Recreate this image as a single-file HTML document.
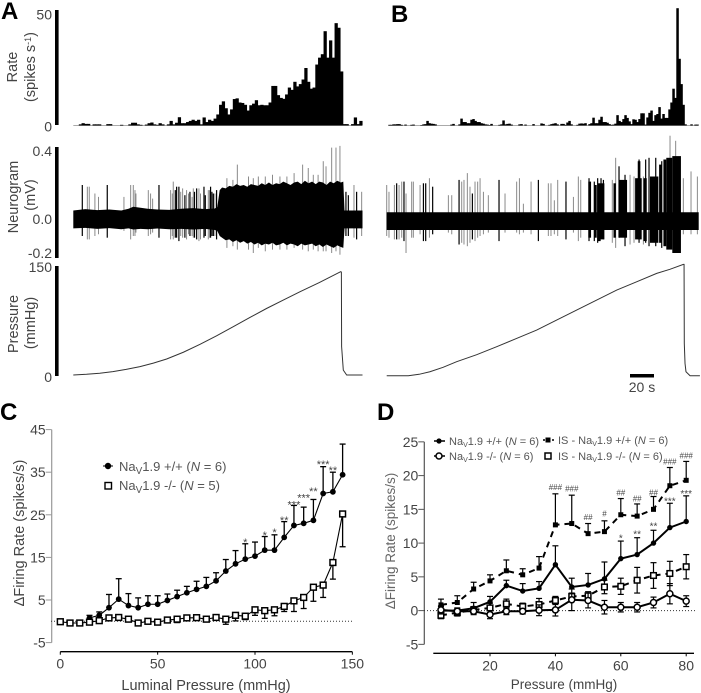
<!DOCTYPE html>
<html lang="en">
<head>
<meta charset="utf-8">
<title>Nav1.9 afferent firing recordings</title>
<style>
html,body{margin:0;padding:0;background:#fff;width:701px;height:693px;overflow:hidden}
svg{display:block;font-family:"Liberation Sans",Arial,sans-serif;filter:blur(0.3px)}
.lab{fill:#444;font-size:14.5px}
.tick{fill:#444;font-size:14px}
.letter{fill:#000;font-size:24px;font-weight:bold}
</style>
</head>
<body>
<svg id="fig" xmlns="http://www.w3.org/2000/svg" width="701" height="693" viewBox="0 0 701 693">
  <text class="letter" x="1" y="19">A</text>
  <text class="letter" x="391" y="22">B</text>
  <text class="letter" x="0" y="420">C</text>
  <text class="letter" x="377" y="420">D</text>

  <text class="lab" transform="translate(17,67) rotate(-90)" text-anchor="middle">Rate</text>
  <text class="lab" transform="translate(35,67) rotate(-90)" text-anchor="middle">(spikes s<tspan dy="-4" font-size="9">-1</tspan><tspan dy="4">)</tspan></text>
  <text class="lab" transform="translate(18,197) rotate(-90)" text-anchor="middle">Neurogram</text>
  <text class="lab" transform="translate(35,195) rotate(-90)" text-anchor="middle">(mV)</text>
  <text class="lab" transform="translate(18,324) rotate(-90)" text-anchor="middle">Pressure</text>
  <text class="lab" transform="translate(35,323) rotate(-90)" text-anchor="middle">(mmHg)</text>

  <text class="lab" transform="translate(24,533) rotate(-90)" text-anchor="middle">ΔFiring Rate (spikes/s)</text>
  <text class="lab" x="206" y="690" text-anchor="middle">Luminal Pressure (mmHg)</text>
  <text class="lab" style="font-size:13.5px;fill:#666" transform="translate(395,541) rotate(-90)" text-anchor="middle">ΔFiring Rate (spikes/s)</text>
  <text class="lab" style="font-size:13.5px" x="564" y="689" text-anchor="middle">Pressure (mmHg)</text>

  <g>
    <rect x="630" y="374" width="24" height="3.5" fill="#000"></rect>
    <text class="tick" x="642" y="392" text-anchor="middle">20 s</text>
  </g>

  <g>
    <circle cx="108" cy="466" r="3.2" fill="#000"></circle>
    <line x1="103" y1="466" x2="113" y2="466" stroke="#000"></line>
    <text x="119" y="471" font-size="13" fill="#555">Na<tspan dy="3" font-size="10">V</tspan><tspan dy="-3">1.9 +/+ (</tspan><tspan font-style="italic">N</tspan> = 6)</text>
    <rect x="105" y="482.5" width="6.5" height="6.5" fill="#fff" stroke="#000" stroke-width="1.4"></rect>
    <text x="119" y="490" font-size="13" fill="#555">Na<tspan dy="3" font-size="10">V</tspan><tspan dy="-3">1.9 -/- (</tspan><tspan font-style="italic">N</tspan> = 5)</text>
  </g>

  <g>
    <line x1="434" y1="441" x2="445" y2="441" stroke="#000" stroke-width="1.5"></line>
    <circle cx="439" cy="441" r="2.6" fill="#000"></circle>
    <text x="449" y="445" font-size="11" fill="#555">Na<tspan dy="2" font-size="7">V</tspan><tspan dy="-2">1.9 +/+ (</tspan><tspan font-style="italic">N</tspan> = 6)</text>
    <line x1="434" y1="456" x2="445" y2="456" stroke="#000" stroke-width="1.5"></line>
    <circle cx="439" cy="456" r="3" fill="#fff" stroke="#000" stroke-width="1.5"></circle>
    <text x="449" y="460" font-size="11" fill="#555">Na<tspan dy="2" font-size="7">V</tspan><tspan dy="-2">1.9 -/- (</tspan><tspan font-style="italic">N</tspan> = 6)</text>
    <line x1="543" y1="440" x2="554" y2="440" stroke="#000" stroke-width="1.5" stroke-dasharray="2 7"></line>
    <rect x="545.5" y="437.5" width="5" height="5" fill="#000"></rect>
    <text x="558" y="444" font-size="11" fill="#555">IS - Na<tspan dy="2" font-size="7">V</tspan><tspan dy="-2">1.9 +/+ (</tspan><tspan font-style="italic">N</tspan> = 6)</text>
    <rect x="545" y="453" width="6" height="6" fill="#fff" stroke="#000" stroke-width="1.5"></rect>
    <text x="558" y="460" font-size="11" fill="#555">IS - Na<tspan dy="2" font-size="7">V</tspan><tspan dy="-2">1.9 -/- (</tspan><tspan font-style="italic">N</tspan> = 6)</text>
  </g>
</svg>
<script>
// ---------- Panel A/B: histogram values (spikes/s per bin) ----------
const rateA = [0,0,.5,1,.7,.7,0,.5,.5,.5,0,0,.6,.6,0,0,0,.3,0,0,.5,1.2,1.2,.5,.3,0,.4,1,1.3,.5,.3,1,.5,0,.5,2,.5,1.2,3.6,1,1,1.5,2,2.5,2,2.5,.5,3.5,1.5,2.5,2,3,4.8,9,10.5,7.5,4.8,7,11.5,11.8,10,9.8,9,6.5,8.8,9.5,11,8.8,9,8.8,8.8,10,17.2,17.2,13.2,12,11.6,13.5,16.5,15.5,19,17,18,20,25,19,16,16.5,26.5,29.5,31,41,29.5,37,29.5,44.5,42.5,23.5,.6,.6,0,.6,3.5,.6,2];
const rateB = [.3,.3,.5,.5,.6,.6,.3,0,.4,0, 0,.3,.4,0,0,0,.2,.5,.6,2, 1,.8,.7,.5,0,0,0,0,0,0, 0,.4,.7,0,0,.5,3,1.5,1.5,1, 1,2.5,2.8,2,1.5,1.5,1,.8,.5,.4, .2,.7,0,0,0,.3,.5,2.2,.5,.7, .8,.4,0,0,0,.5,.6,0,.4,0, 0,0,.6,0,0,0,.9,.7,0,0, .3,.6,.8,1,.5,0,.7,.7,.3,1.3, 2,.5,0,0,.3,.8,.9,.8,1,0, .6,1,3.4,1,1,2.5,3.8,1.5,1.5,1.2, .6,.3,.4,.8,4.5,2,1.5,2.8,4.5,3.3, 1.8,.6,2.7,2.5,1.5,2.8,5.3,5.3,.4,3.5, 5.5,6.5,2,4.5,5,8,3,5,3.3,3.3, 7,10,16,12,51,29,18,9,.5,0, 0,.5,0,.4,.4];
const rateTickValues = [50,0];

// ---------- Neurogram A ----------
const neuroTicks = [0.4,0,-0.2];
const bandTimeA = [0,10,20,30,40,46,50,56,62,70,80,90,100,110,118,120,122,124,127,130,133,136,139,142,145,148,151,154,157,160,163,166,169,172,175,178,181,184,187,190,193,196,199,202,205,208,211,214,217,220,223,225,226,241];
const bandHighA = [.05,.058,.052,.056,.05,.06,.072,.066,.06,.056,.054,.06,.064,.058,.062,.07,.17,.185,.18,.195,.19,.205,.195,.2,.19,.205,.2,.195,.21,.2,.215,.2,.21,.205,.22,.21,.2,.215,.22,.205,.225,.21,.22,.205,.22,.215,.2,.22,.21,.225,.215,.22,.05,.05];
const bandLowA = [-.055,-.052,-.058,-.054,-.06,-.055,-.062,-.058,-.06,-.056,-.06,-.058,-.062,-.058,-.065,-.07,-.1,-.11,-.125,-.12,-.135,-.125,-.14,-.13,-.145,-.135,-.15,-.14,-.155,-.145,-.15,-.14,-.155,-.15,-.14,-.155,-.145,-.15,-.16,-.145,-.155,-.15,-.145,-.16,-.15,-.165,-.15,-.16,-.17,-.155,-.165,-.17,-.055,-.055];
const spikeTimeA = [7.5,11.7,13.3,18,21, 28.3,42.2,47.8,50,51.4, 52.2,62.5,64.4,66.1,71.4, 81.1,83.3,86.1,88,91.1, 94.4,97.2,100,102.8,104.7, 108.9,112.5,114.4,116.7,119.4, 136.7,154.2,172.2,191.1,195.8, 208.3,210.6,215.3,218.9,222.2, 227.2,229.2,233.9,236.1,240.3, 82.5,85,89.5,93,96,99,101,106,110,113.5,115.5,118, 128,133,146,150,160,166,178,184,200,204];
const spikeHighA = [.2,.19,.19,.15,.13, .2,.13,.2,.2,.17, .15,.17,.15,.12,.2, .17,.22,.19,.19,.18, .17,.16,.18,.18,.18, .19,.17,.19,.15,.17, .32,.25,.25,.32,.3, .34,.31,.42,.42,.43, .16,.14,.2,.16,.16, .15,.17,.16,.14,.15,.13,.16,.15,.14,.17,.16,.15, .24,.23,.25,.24,.25,.26,.25,.27,.26,.26];
const spikeLowA = [-.1,-.12,-.12,-.1,-.09, -.11,-.07,-.12,-.1,-.1, -.08,-.1,-.09,-.08,-.11, -.12,-.12,-.11,-.13,-.11, -.12,-.1,-.11,-.12,-.13, -.11,-.12,-.11,-.1,-.12, -.18,-.17,-.18,-.18,-.19, -.19,-.19,-.2,-.19,-.21, -.1,-.1,-.11,-.12,-.1, -.1,-.11,-.1,-.11,-.09,-.1,-.11,-.12,-.1,-.11,-.1,-.1, -.17,-.16,-.18,-.2,-.19,-.18,-.18,-.17,-.18,-.19];
const spikeDarkA = [1,0,0,0,0, 1,0,0,0,0, 0,0,0,0,1, 0,0,1,1,0, 0,1,0,1,0, 1,0,1,1,1, 0,0,0,0,0, 0,0,0,0,0, 1,1,0,1,0, 0,1,0,1,0,0,1,0,1,0,1,0, 0,0,0,0,0,0,0,0,0,0];

// ---------- Neurogram B ----------
const bandTimeB = [0,260];
const bandHighB = [.05,.05];
const bandLowB = [-.055,-.055];
const burstStartB = [168,173,175.8,179,189,193.6,207,209.2,214,219.4,227,230.6,233,238];
const burstEndB = [170.3,175,178.3,181.4,191,200.3,212.5,211.4,216.7,226.4,229,233,238,245.2];
const burstHighB = [.23,.21,.22,.22,.22,.24,.25,.35,.25,.26,.33,.36,.37,.38];
const burstLowB = [-.1,-.1,-.12,-.11,-.1,-.1,-.11,-.11,-.12,-.13,-.13,-.15,-.17,-.19];
const spikeTimeB = [0,1.9,6.4,8.3,10.3, 12.5,14.4,16.1,20.8,22.2, 27.8,30.6,32.5,35.6,38.3, 51.4,54.2,60.3,62.5,64.4, 67.2,69.4,71.4,73.6,75.8, 77.8,80.6,84.7,93.6,98.6, 108.3,110.6,113.9,120.3,126.4, 134.7,136.9,139.7,142.5,149.4, 155.6,159.7,161.7,168.6,173, 175.8,178.6,180.6,188,190.8, 193.6,198.6,202.8,206.1,210.3, 213.9,215.8,218.6,224.2,229.2, 236.1,240.8,247.2,253.6,258.9];
const spikeHighB = [.21,.17,.21,.22,.21, .23,.23,.16,.23,.23, .21,.22,.22,.25,.2, .15,.15,.24,.23,.24, .28,.2,.16,.23,.23, .25,.17,.15,.24,.16, .23,.25,.1,.23,.24, .22,.22,.12,.24,.23, .14,.26,.24,.25,.23, .25,.25,.24,.24,.37, .32,.27,.27,.26,.36, .26,.36,.37,.37,.35, .5,.47,.25,.29,.26];
const spikeLowB = [-.09,-.1,-.11,-.11,-.11, -.1,-.12,-.19,-.1,-.1, -.08,-.12,-.12,-.1,-.08, -.07,-.08,-.14,-.13,-.14, -.15,-.13,-.11,-.12,-.1, -.09,-.08,-.07,-.12,-.07, -.07,-.08,-.07,-.08,-.12, -.09,-.09,-.08,-.09,-.11, -.07,-.12,-.1,-.12,-.12, -.13,-.11,-.11,-.13,-.16, -.1,-.15,-.14,-.13,-.13, -.14,-.13,-.15,-.15,-.16, -.15,-.17,-.08,-.08,-.08];
const spikeDarkB = [0,0,0,1,0, 0,1,0,0,0, 0,1,1,0,1, 0,0,1,0,0, 0,0,1,0,0, 0,0,0,1,0, 0,0,0,0,1, 0,0,0,0,1, 0,0,0,1,1, 1,1,1,0,0, 1,1,0,0,1, 0,1,1,1,1, 0,0,0,0,0];

// ---------- Pressure traces ----------
const pressureTicks = [150,0];
const pressureTimeA = [0,11,22,33,44,55.6,66.7,77.8,91.7,105.6,119.4,133.3,147,161,175,189,205,222.8,223.4,223.6,225,227.8,241];
const pressureValA = [0,1,2.5,4.8,8,11.9,17,22.9,32.5,43.8,56,69,82,95,107,119,132,147.6,147,40.5,7,0,0];
const pressureTimeB = [0,18,27,36,47,58.3,75,91.7,108,125,141,158.3,175,191.7,208,225,236,247.2,247.8,248,248.6,249.4,252.8,261];
const pressureValB = [0,0,2,5.7,12,20,30,41.4,53,65.2,79,93.8,108,122.4,134,146.2,152,159,159,46,17.6,5.7,0,0];

// ---------- Panel C ----------
const cYTicks = [45,35,25,15,5,-5];
const cXTicks = [0,50,100,150];
const cWtPressure = [15,20,25,30,35,40,45,50,55,60,65,70,75,80,85,90,95,100,105,110,115,120,125,130,135,140,145];
const cWtRate = [.8,1.4,3.2,5.2,3.7,3.2,4,4,4.9,5.8,6.7,7.5,8.2,9.5,11.8,13.5,14.6,15.3,16.7,16.7,19.7,22.5,23,23.7,30,30.4,34.4];
const cWtErrTop = [1.4,2.2,6.3,10,6.5,5.5,6,6,6.4,7.3,8.2,9.4,10.3,11.4,14.5,16.6,18.2,18.6,19.9,20.3,23.4,27.2,26.8,28.6,36.3,35,41.6];
const cKoPressure = [0,5,10,15,20,25,30,35,40,45,50,55,60,65,70,75,80,85,90,95,100,105,110,115,120,125,130,135,140,145];
const cKoRate = [-.1,-.4,-.4,-.2,.15,.8,.9,.5,-.4,0,-.2,.3,.5,.8,.85,.5,.9,.5,1.4,1.2,2.7,2.5,2.7,3.5,4.8,5.6,8,8.5,13.8,25.2];
const cKoErrLow = [-.3,-.7,-.6,-.5,-.2,.4,.5,.2,-.7,-.3,-.5,0,-.3,.5,.5,.2,.4,-.7,.1,.4,1.4,.7,1.3,2.3,2.3,3,4.7,5.6,9.9,17.5];
const cSigPressure = [95,105,110,115,120,125,130,135,140];
const cSigLevel = [19.2,20.9,21.5,24.4,28,29.6,31.2,37.5,36.1];
const cSigText = ["*","*","*","**","***","***","**","***","**"];

// ---------- Panel D ----------
const dYTicks = [25,20,15,10,5,0,-5];
const dXTicks = [20,40,60,80];
const dPressure = [5,10,15,20,25,30,35,40,45,50,55,60,65,70,75,80];
const dIsWt = [.85,1.2,3.2,4.4,5.9,5.3,6.3,12.7,12.9,11.4,11.7,14.2,14,15,18.5,19.3];
const dIsWtTop = [1.7,2.2,4.2,5.3,7.5,6.2,8,17.3,17.1,12.9,13.3,16.6,15.8,16.9,21.2,22.1];
const dWt = [0,0,.35,1.3,3.7,2.9,3.3,6.8,3.5,3.8,4.7,7.7,8.3,10,12.3,13.2];
const dWtTop = [.6,.3,1.2,2.1,4.5,4,4.3,9.6,4.8,5.5,7.2,10.3,10.8,11.9,15.9,17];
const dIsKo = [-.7,-.3,.1,.4,1,.6,.9,1.5,2.1,2.2,3.5,3.6,4.5,5.2,5.5,6.5];
const dIsKoTop = [-.2,.2,.6,1.1,1.7,1.1,1.8,2.1,2.6,2.8,4.5,4.8,6.4,7.1,7.3,8.3];
const dKo = [.1,-.1,-.1,-.6,-.1,-.1,.05,.1,1.6,1.5,.5,.5,.5,1.2,2.5,1.4];
const dKoErr = [.6,.5,.5,.6,.5,.4,.8,.9,1.6,1.1,1,.7,.7,.8,1.5,.8];
const dStarPressure = [60,65,70,75,80];
const dStarLevel = [11.1,11.7,12.9,16.6,17.7];
const dStarText = ["*","**","**","***","***"];
const dHashPressure = [40,45,50,55,60,65,70,75,80];
const dHashLevel = [18.3,18.1,13.9,14.4,17.5,16.6,17.5,22.1,23];
const dHashText = ["###","###","##","#","##","##","##","###","###"];

// ---------- helpers ----------
const NS = 'http://www.w3.org/2000/svg';
const root = document.getElementById('fig');
function make(tag, props, parent) {
  const el = document.createElementNS(NS, tag);
  for (const k in props) el.setAttribute(k, props[k]);
  (parent || root).appendChild(el);
  return el;
}
function group(name) {
  const g = make('g', {});
  
  
  return g;
}
function label(parent, x, y, str, cls, anchor, name) {
  const t = make('text', {x: x, y: y, class: cls, 'text-anchor': anchor}, parent);
  t.textContent = str;
  
  
  return t;
}
function thickBar(parent, y1, y2, name) {
  const r = make('rect', {x: 55, y: y1, width: 3.6, height: y2 - y1, fill: '#000'}, parent);
  
  
}

// ---------- rate histograms ----------
const rateY = v => 125.5 - v * 2.3;
function drawRate(name, values, x0, binW) {
  const g = group(name);
  const base = make('line', {x1: x0, x2: x0 + values.length * binW, y1: 125.5, y2: 125.5, stroke: '#aaa', 'stroke-width': 1}, g);
  
  
  values.forEach((v, i) => {
    if (v <= 0) return;
    const r = make('rect', {x: x0 + i * binW, y: rateY(v), width: binW + .5, height: rateY(0) - rateY(v), fill: '#000'}, g);
    
    
  });
  return g;
}
const ga = drawRate('rate-histogram-a', rateA, 73.3, 2.75);
thickBar(ga, 10, 125, 'rate-scale-bar');
rateTickValues.forEach(v => {
  label(ga, 52, rateY(v) + (v ? 9 : 6), String(v), 'tick', 'end', 'rate-tick-label');
});
drawRate('rate-histogram-b', rateB, 388.3, 2);

// ---------- neurograms ----------
function drawNeuro(name, x0, zeroY, bt, bh, bl, st, sh, sl, sd) {
  const g = group(name);
  const X = t => x0 + t * 1.2;
  const Y = v => zeroY - v * 170;
  sd.forEach((d, i) => {
    if (d) return;
    const l = make('line', {x1: X(st[i]), x2: X(st[i]), y1: Y(sh[i]), y2: Y(sl[i]), stroke: '#8a8a8a', 'stroke-width': 1}, g);
    
    
  });
  sd.forEach((d, i) => {
    if (!d) return;
    const l = make('line', {x1: X(st[i]), x2: X(st[i]), y1: Y(sh[i]), y2: Y(sl[i]), stroke: '#000', 'stroke-width': 1.2}, g);
    
    
  });
  const top = bt.map((t, i) => X(t) + ',' + Y(bh[i]));
  const bot = bt.map((t, i) => X(t) + ',' + Y(bl[i])).reverse();
  const band = make('polygon', {points: top.concat(bot).join(' '), fill: '#000'}, g);
  
  
  return {g, X, Y};
}
const na = drawNeuro('neurogram-a', 73.3, 219, bandTimeA, bandHighA, bandLowA, spikeTimeA, spikeHighA, spikeLowA, spikeDarkA);
thickBar(na.g, 147, 258, 'neurogram-scale-bar');
neuroTicks.forEach(v => {
  label(na.g, 52, na.Y(v) + 5, v.toFixed(1), 'tick', 'end', 'neurogram-tick-label');
});
const nb = drawNeuro('neurogram-b', 386.7, 220.7, bandTimeB, bandHighB, bandLowB, spikeTimeB, spikeHighB, spikeLowB, spikeDarkB);
burstStartB.forEach((s, i) => {
  const r = make('rect', {x: nb.X(s), y: nb.Y(burstHighB[i]), width: nb.X(burstEndB[i]) - nb.X(s), height: nb.Y(burstLowB[i]) - nb.Y(burstHighB[i]), fill: '#000'}, nb.g);
  
  
});

// ---------- pressure ----------
function drawPressure(name, x0, base, times, vals) {
  const g = group(name);
  const pts = times.map((t, i) => (x0 + t * 1.2) + ',' + (base - vals[i] * 0.7)).join(' ');
  const p = make('polyline', {points: pts, fill: 'none', stroke: '#333', 'stroke-width': 1}, g);
  
  
  return g;
}
const pa = drawPressure('pressure-a', 73.3, 375, pressureTimeA, pressureValA);
thickBar(pa, 266, 376, 'pressure-scale-bar');
pressureTicks.forEach(v => {
  label(pa, 52, (375 - v * 0.7) + (v ? 2 : 7), String(v), 'tick', 'end', 'pressure-tick-label');
});
drawPressure('pressure-b', 386.7, 375.7, pressureTimeB, pressureValB);

// ---------- generic axis drawing ----------
function drawAxes(name, o) {
  const g = group(name);
  const ya = make('line', {x1: o.axisX, x2: o.axisX, y1: o.Y(o.yTicks[0]), y2: o.Y(o.yTicks[o.yTicks.length - 1]), stroke: o.yColor, 'stroke-width': 1.2}, g);
  
  
  o.yTicks.forEach(v => {
    const t = make('line', {x1: o.axisX - 6, x2: o.axisX, y1: o.Y(v), y2: o.Y(v), stroke: o.yColor, 'stroke-width': 1}, g);
    
    
    label(g, o.axisX - 6, o.Y(v) + 5, String(v), 'tick', 'end', 'y-tick-label');
  });
  const xa = make('line', {x1: o.xStart, x2: o.xEnd, y1: o.axisY, y2: o.axisY, stroke: '#000', 'stroke-width': 1.4}, g);
  
  
  o.xTicks.forEach(v => {
    const t = make('line', {x1: o.X(v), x2: o.X(v), y1: o.axisY, y2: o.axisY + 3, stroke: '#000', 'stroke-width': 1}, g);
    
    
    label(g, o.X(v), o.axisY + 17, String(v), 'tick', 'middle', 'x-tick-label');
  });
  const z = make('line', {x1: o.zeroStart, x2: o.xEnd + 1, y1: o.Y(0), y2: o.Y(0), stroke: '#333', 'stroke-width': 1, 'stroke-dasharray': '1 2'}, g);
  
  
  return g;
}
function errorBar(g, x, y1, y2, capW, w, name) {
  const l = make('line', {x1: x, x2: x, y1: y1, y2: y2, stroke: '#000', 'stroke-width': w}, g);
  
  
  const c = make('line', {x1: x - capW, x2: x + capW, y1: y2, y2: y2, stroke: '#000', 'stroke-width': w}, g);
  
  
}
function seriesLine(g, xs, ys, w, dash, name) {
  const pts = xs.map((x, i) => x + ',' + ys[i]).join(' ');
  const p = make('polyline', {points: pts, fill: 'none', stroke: '#000', 'stroke-width': w}, g);
  if (dash) p.setAttribute('stroke-dasharray', dash);
  
  
}
function circleMark(g, x, y, r, open, name) {
  const c = make('circle', {cx: x, cy: y, r: r, fill: open ? '#fff' : '#000', stroke: '#000', 'stroke-width': open ? 1.5 : 0}, g);
  
  
}
function squareMark(g, x, y, s, open, name) {
  const c = make('rect', {x: x - s / 2, y: y - s / 2, width: s, height: s, fill: open ? '#fff' : '#000', stroke: '#000', 'stroke-width': open ? 1.5 : 0}, g);
  
  
}
function sigLabel(g, x, y, str, size, name) {
  const t = make('text', {x: x, y: y, 'text-anchor': 'middle', 'font-size': size, fill: '#444'}, g);
  t.textContent = str;
  
  
}

// ---------- Panel C ----------
const cX = v => 60.3 + v * 1.947;
const cY = v => 621.3 - v * 4.26;
const gc = drawAxes('chart-c-axes', {axisX: 51.7, yTicks: cYTicks, xTicks: cXTicks, X: cX, Y: cY, yColor: '#999', axisY: 651.7, xStart: 60.3, xEnd: 352.3, zeroStart: 51});
const cw = group('series-c-wt');
cWtPressure.forEach((p, i) => errorBar(cw, cX(p), cY(cWtRate[i]), cY(cWtErrTop[i]), 3, 1.3, 'error-bar-wt'));
seriesLine(cw, cWtPressure.map(cX), cWtRate.map(cY), 1.1, null, 'line-wt');
cWtPressure.forEach((p, i) => circleMark(cw, cX(p), cY(cWtRate[i]), 2.9, false, 'point-wt'));
const ck = group('series-c-ko');
cKoPressure.forEach((p, i) => errorBar(ck, cX(p), cY(cKoRate[i]), cY(cKoErrLow[i]), 3, 1.3, 'error-bar-ko'));
seriesLine(ck, cKoPressure.map(cX), cKoRate.map(cY), 1.1, null, 'line-ko');
cKoPressure.forEach((p, i) => squareMark(ck, cX(p), cY(cKoRate[i]), 5.8, true, 'point-ko'));
const cs = group('significance-c');
cSigPressure.forEach((p, i) => sigLabel(cs, cX(p), cY(cSigLevel[i]) + 6.5, cSigText[i], 11, 'significance-stars'));

// ---------- Panel D ----------
const dX = v => 490 + (v - 20) * 3.27;
const dY = v => 610.6 - v * 6.75;
const gd = drawAxes('chart-d-axes', {axisX: 424.3, yTicks: dYTicks, xTicks: dXTicks, X: dX, Y: dY, yColor: '#555', axisY: 653.3, xStart: 433.3, xEnd: 694, zeroStart: 424});
function drawD(name, vals, tops, sym, mark, size, open, dash) {
  const g = group(name);
  dPressure.forEach((p, i) => {
    errorBar(g, dX(p), dY(vals[i]), dY(tops[i]), 3, 1.2, name + '-error');
    if (sym) errorBar(g, dX(p), dY(vals[i]), dY(2 * vals[i] - tops[i]), 3, 1.2, name + '-error');
  });
  seriesLine(g, dPressure.map(dX), vals.map(dY), 2, dash, name + '-line');
  dPressure.forEach((p, i) => mark(g, dX(p), dY(vals[i]), size, open, name + '-point'));
}
drawD('series-d-is-wt', dIsWt, dIsWtTop, false, squareMark, 5, false, '6 5');
drawD('series-d-wt', dWt, dWtTop, false, circleMark, 2.7, false, null);
drawD('series-d-is-ko', dIsKo, dIsKoTop, true, squareMark, 5.6, true, '6 5');
drawD('series-d-ko', dKo, dKo.map((v, i) => v + dKoErr[i]), true, circleMark, 3, true, null);
const ds = group('significance-d');
dStarPressure.forEach((p, i) => sigLabel(ds, dX(p), dY(dStarLevel[i]) + 6, dStarText[i], 10, 'significance-stars'));
dHashPressure.forEach((p, i) => sigLabel(ds, dX(p), dY(dHashLevel[i]) + 3, dHashText[i], 8, 'significance-hashes'));
</script>
</body>
</html>
